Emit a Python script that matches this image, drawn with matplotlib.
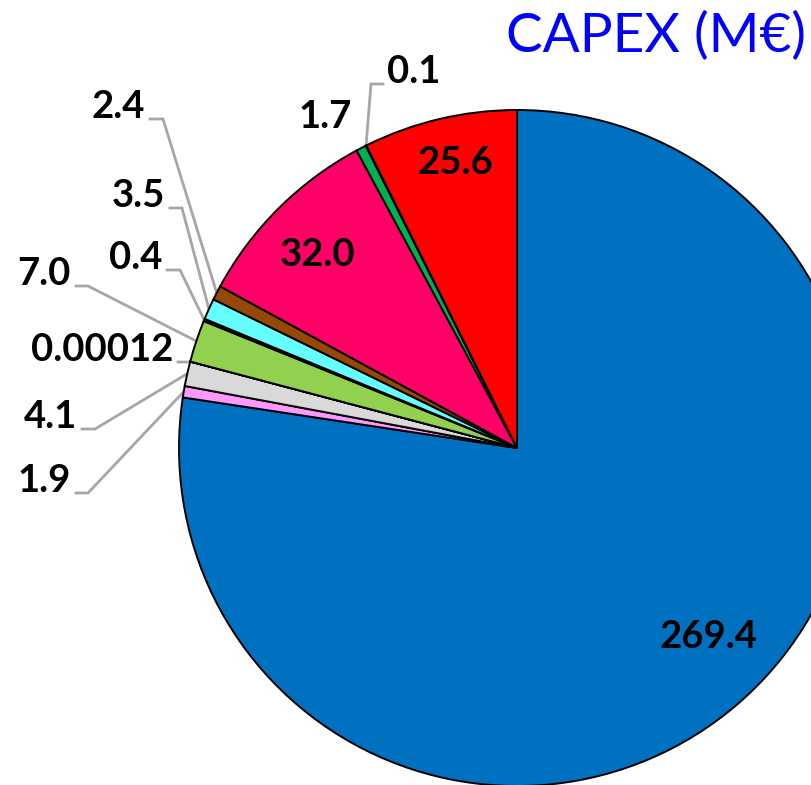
import numpy as np
import matplotlib.pyplot as plt

W, H = 811, 785

values = [269.4, 1.9, 4.1, 0.00012, 7.0, 0.4, 3.5, 2.4, 32.0, 1.7, 0.1, 25.6]
labels = ['269.4', '1.9', '4.1', '0.00012', '7.0', '0.4', '3.5', '2.4',
          '32.0', '1.7', '0.1', '25.6']
colors = ['#0070C0', '#FF99FF', '#D9D9D9', '#FFC000', '#92D050', '#0D0D0D',
          '#66FFFF', '#974706', '#FF0066', '#00B050', '#7030A0', '#FF0000']

# label placement in pixel units (y measured from the top)
inside_pos = {0: (708, 637), 8: (318, 255), 11: (455, 163)}
# index -> (elbow start x, elbow end x, elbow y)
leader_pos = {1: (76, 88, 493), 2: (82, 95, 429), 3: (178, 190, 362),
              4: (76, 88, 286), 5: (167, 180, 270), 6: (170, 182, 208),
              7: (150, 163, 119)}
plain_pos = {9: (298, 128)}

fig = plt.figure(figsize=(W / 100, H / 100), dpi=100)
ax = fig.add_axes([0, 0, 1, 1])
cx, cy, r = 517, H - 448, 338
wedges, _ = ax.pie(values, colors=colors, startangle=90, counterclock=False,
                   center=(cx, cy), radius=r,
                   wedgeprops=dict(edgecolor='black', linewidth=1.4))
ax.set_xlim(0, W)
ax.set_ylim(0, H)
ax.axis('off')

font = dict(family=['Lato', 'DejaVu Sans'], fontweight='bold', fontsize=27.5,
            color='black')
line_kw = dict(color='#A6A6A6', lw=2, solid_joinstyle='miter', zorder=0)


def edge_point(w):
    t = np.deg2rad((w.theta1 + w.theta2) / 2)
    return cx + r * np.cos(t), cy + r * np.sin(t)


for i, (x, y) in inside_pos.items():
    ax.text(x, H - y, labels[i], ha='center', va='center', **font)

for i, (x0, x1, y) in leader_pos.items():
    px, py = edge_point(wedges[i])
    ax.plot([px, x1, x0], [py, H - y, H - y], **line_kw)
    ax.text(x0 - 5, H - y + 1, labels[i], ha='right', va='baseline', **font)

for i, (x, y) in plain_pos.items():
    ax.text(x, H - y, labels[i], ha='left', va='baseline', **font)

# the 0.1 slice gets a leader going straight up
px, py = edge_point(wedges[10])
ax.plot([px, 371, 383], [py, H - 84, H - 84], **line_kw)
ax.text(387, H - 84 + 1, labels[10], ha='left', va='baseline', **font)

ax.text(806, H - 52, 'CAPEX (M€)', ha='right', va='baseline',
        family=['Lato', 'DejaVu Sans'], fontsize=39.5, color='#0000FF')

fig.savefig('out.png', dpi=100)
